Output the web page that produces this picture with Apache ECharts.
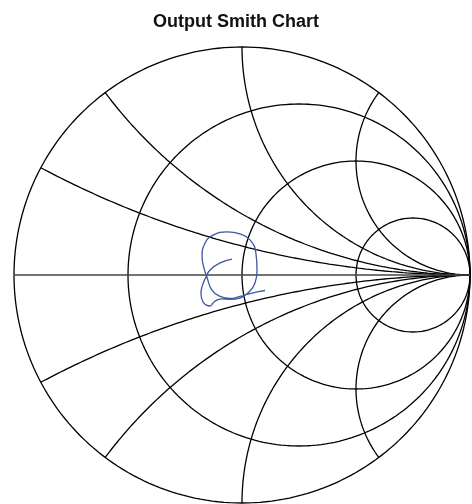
<!DOCTYPE html>
<html><head><meta charset="utf-8">
<script src="https://cdn.jsdelivr.net/npm/echarts@6/dist/echarts.min.js"></script>
<style>html,body{margin:0;padding:0;background:#fff}#c{width:472px;height:504px}</style>
</head><body><div id="c"></div>
<script>
const titleText = 'Output Smith Chart';
// Smith chart grid values
const resistances = [0, 1/3, 1, 3];
const reactances = [0.25, 0.5, 1, 2, -0.25, -0.5, -1, -2];
const gammaRe = [-0.044,-0.096,-0.140,-0.158,-0.171,-0.180,-0.171,-0.140,-0.127,-0.110,-0.088,-0.053,-0.009,0.026,0.057,0.066,0.061,0.035,-0.009,-0.066,-0.127,-0.162,-0.175,-0.167,-0.154,-0.132,-0.096,-0.053,-0.009,0.044,0.101];
const gammaIm = [0.070,0.053,0.022,-0.009,-0.039,-0.079,-0.118,-0.136,-0.123,-0.110,-0.105,-0.107,-0.101,-0.079,-0.035,0.022,0.096,0.154,0.180,0.189,0.175,0.140,0.079,0.031,-0.009,-0.066,-0.094,-0.103,-0.094,-0.079,-0.068];

const N = 240;
function rCircle(r){
  const cx = r/(1+r), rad = 1/(1+r), pts = [];
  for(let i=0;i<=N;i++){const a=2*Math.PI*i/N; pts.push([cx+rad*Math.cos(a), rad*Math.sin(a)]);}
  return pts;
}
function xArc(x){
  const ax = Math.abs(x), cy = 1/ax, rad = 1/ax;
  const px = (ax*ax-1)/(ax*ax+1), py = 2*ax/(ax*ax+1);
  let t0 = Math.atan2(py-cy, px-1); if(t0<0) t0 += 2*Math.PI;
  const t1 = 1.5*Math.PI, pts = [];
  for(let i=0;i<=N;i++){const t=t0+(t1-t0)*i/N; const yy = cy+rad*Math.sin(t); pts.push([1+rad*Math.cos(t), x>0?yy:-yy]);}
  return pts;
}
const gridStyle = {color:'#000', width:1.3};
const series = [];
resistances.forEach(r=>series.push({type:'line', data:rCircle(r), showSymbol:false, silent:true, clip:false, lineStyle:gridStyle}));
reactances.forEach(x=>series.push({type:'line', data:xArc(x), showSymbol:false, silent:true, clip:false, lineStyle:gridStyle}));
series.push({type:'line', data:[[-1,0],[1,0]], showSymbol:false, silent:true, clip:false, lineStyle:{color:'#444', width:1.5}});
series.push({type:'line', data:gammaRe.map((v,i)=>[v,gammaIm[i]]), showSymbol:false, smooth:0.5, clip:false, lineStyle:{color:'#3f58a0', width:1.3}});

const chart = echarts.init(document.getElementById('c'));
chart.setOption({
  animation:false,
  title:{text:titleText, left:'center', top:8, textStyle:{fontFamily:'Liberation Sans', fontWeight:'bold', fontSize:18, color:'#111'}},
  grid:{left:14, top:47, width:456, height:456},
  xAxis:{type:'value', min:-1, max:1, show:false},
  yAxis:{type:'value', min:-1, max:1, show:false},
  series
});
</script></body></html>
